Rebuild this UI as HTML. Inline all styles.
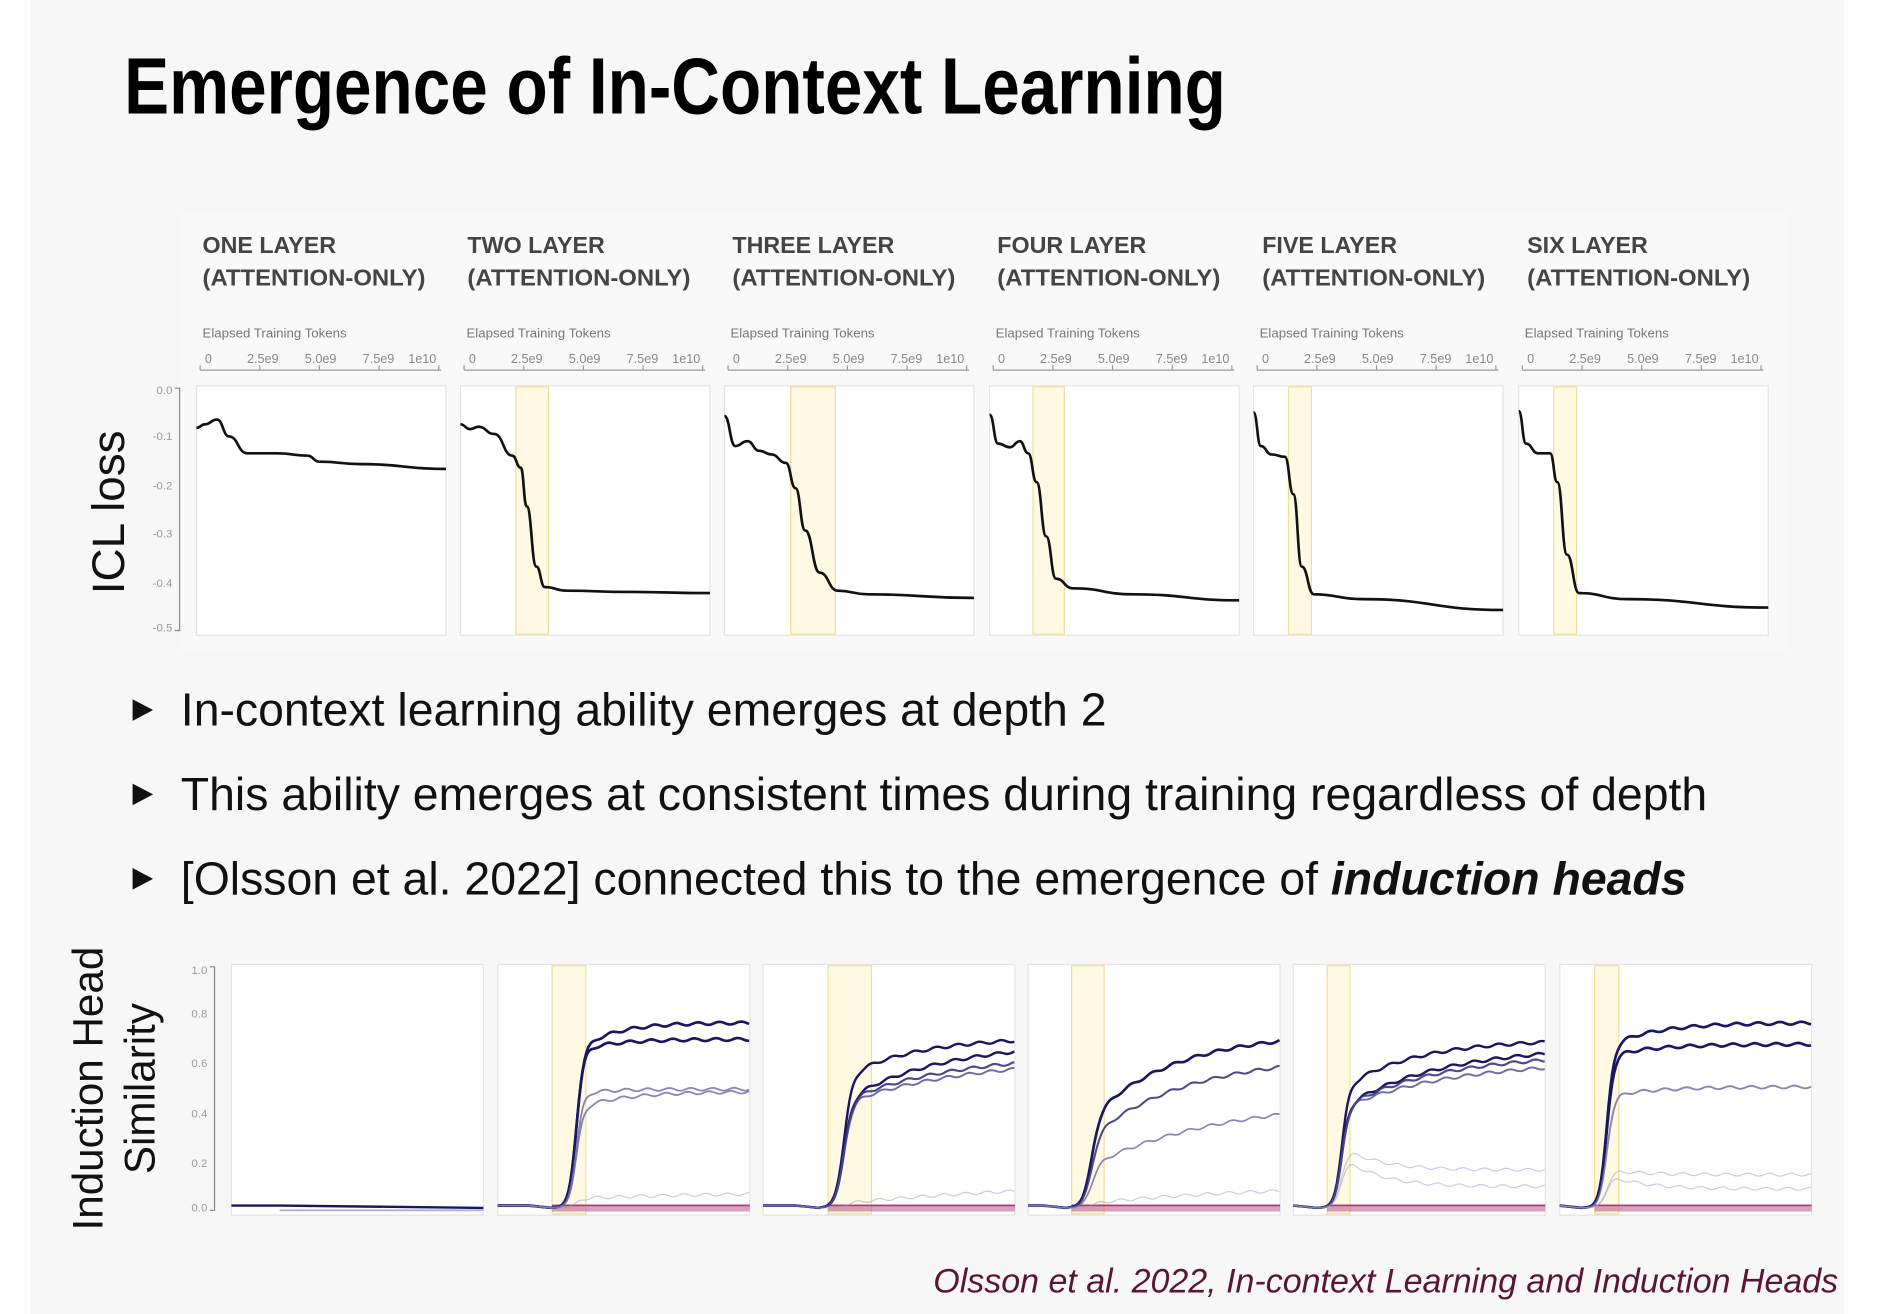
<!DOCTYPE html>
<html><head><meta charset="utf-8"><style>
html,body{margin:0;padding:0;background:#fdfdfd;}
svg{display:block;}
</style></head><body>
<svg id="s" width="1890" height="1314" viewBox="0 0 1568 1090" preserveAspectRatio="none" xmlns="http://www.w3.org/2000/svg" font-family="Liberation Sans, sans-serif">
<rect x="0" y="0" width="1568" height="1090" fill="#fdfdfd"/>
<rect x="25" y="0" width="1505" height="1090" fill="#f7f7f7"/>
<text x="103" y="94" font-family="Liberation Sans Narrow, Liberation Sans, sans-serif" font-weight="bold" font-size="66" textLength="914" lengthAdjust="spacingAndGlyphs" fill="#000">Emergence of In-Context Learning</text>
<rect x="150" y="178" width="1332" height="362" fill="#f9f9f9"/>
<g id="topg"></g>
<g id="botg"></g>
<g font-size="38.5" fill="#111">
<polygon points="110,580 127,589 110,598" fill="#111"/>
<text x="150" y="602">In-context learning ability emerges at depth 2</text>
<polygon points="110,650 127,659 110,668" fill="#111"/>
<text x="150" y="672">This ability emerges at consistent times during training regardless of depth</text>
<polygon points="110,720 127,729 110,738" fill="#111"/>
<text x="150" y="742">[Olsson et al. 2022] connected this to the emergence of <tspan font-weight="bold" font-style="italic">induction heads</tspan></text>
</g>
<text transform="translate(103,425) rotate(-90)" text-anchor="middle" font-size="38" fill="#111">ICL loss</text>
<text transform="translate(85,903) rotate(-90)" text-anchor="middle" font-size="35" fill="#111">Induction Head</text>
<text transform="translate(128,903) rotate(-90)" text-anchor="middle" font-size="35" fill="#111">Similarity</text>
<text x="1525" y="1072" text-anchor="end" font-size="28.2" font-style="italic" fill="#5a1535">Olsson et al. 2022, In-context Learning and Induction Heads</text>
</svg>
<script>
(function(){
var NS="http://www.w3.org/2000/svg";
function el(p,t,a,txt){var e=document.createElementNS(NS,t);for(var k in a)e.setAttribute(k,a[k]);if(txt!==undefined)e.textContent=txt;p.appendChild(e);return e;}
var tg=document.getElementById('topg'),bg=document.getElementById('botg');
var names=['ONE','TWO','THREE','FOUR','FIVE','SIX'];
var px=[163,382,601,821,1040,1260];
var bands=[null,[428,455],[656,693],[857,883],[1069,1088],[1289,1308]];
var curves=[
[[163,355],[170,352],[180,348],[190,362],[205,376],[230,376],[255,378],[265,383],[300,385],[370,389]],
[[382,352],[390,356],[397,354],[410,360],[425,378],[432,388],[437,420],[445,470],[452,487],[470,490],[520,491],[589,492]],
[[601,345],[610,370],[620,366],[630,374],[640,377],[652,384],[660,405],[668,440],[680,475],[695,490],[720,493],[808,496]],
[[821,344],[828,368],[838,371],[846,366],[853,376],[860,400],[868,445],[876,480],[890,488],[940,493],[1028,498]],
[[1040,342],[1046,370],[1055,377],[1066,379],[1073,410],[1080,470],[1090,493],[1130,497],[1247,506]],
[[1260,341],[1266,368],[1276,376],[1286,376],[1292,400],[1300,460],[1310,492],[1350,497],[1467,504]]];
function smooth(pts){var d='M'+pts[0][0]+','+pts[0][1];for(var i=1;i<pts.length;i++){var p0=pts[i-1],p1=pts[i];var mx=(p0[0]+p1[0])/2;d+=' C'+mx+','+p0[1]+' '+mx+','+p1[1]+' '+p1[0]+','+p1[1];}return d;}
for(var i=0;i<6;i++){
 var hx=168+i*219.8;
 el(tg,'text',{x:hx,y:210,'font-size':19.3,'font-weight':'bold',fill:'#444'},names[i]+' LAYER');
 el(tg,'text',{x:hx,y:237,'font-size':19.3,'font-weight':'bold',fill:'#444',textLength:185,lengthAdjust:'spacingAndGlyphs'},'(ATTENTION-ONLY)');
 var ax=px[i]+3;
 el(tg,'text',{x:ax+2,y:280,'font-size':11,fill:'#777'},'Elapsed Training Tokens');
 var lab=['0','2.5e9','5.0e9','7.5e9','1e10'];
 for(var j=0;j<5;j++){var tx=ax+4+j*48;el(tg,'text',{x:tx,y:301,'font-size':10.5,fill:'#888','text-anchor':j==0?'start':(j==4?'end':'middle')},lab[j]);el(tg,'line',{x1:ax+j*49.5,y1:303,x2:ax+j*49.5,y2:307,stroke:'#999'});}
 el(tg,'line',{x1:ax,y1:307,x2:ax+200,y2:307,stroke:'#999','stroke-width':1});
 el(tg,'rect',{x:px[i],y:320,width:207,height:207,fill:'#fff',stroke:'#e4e4e4'});
 if(bands[i]){var b=bands[i];el(tg,'rect',{x:b[0],y:321,width:b[1]-b[0],height:205,fill:'#fdf9e2',stroke:'#efdf9a','stroke-width':1});}
 el(tg,'path',{d:smooth(curves[i]),fill:'none',stroke:'#111','stroke-width':2.2});
}
el(tg,'path',{d:'M145,322 L149,322 L149,523 L145,523',fill:'none',stroke:'#888'});
var yl=[['0.0',324],['-0.1',362],['-0.2',403],['-0.3',443],['-0.4',484],['-0.5',521]];
yl.forEach(function(a){el(tg,'text',{x:143,y:a[1]+3,'font-size':9.5,fill:'#999','text-anchor':'end'},a[0]);});
var bx=[192,413,633,853,1073,1294];
var bb=[null,[458,486],[687,723],[889,916],[1101,1120],[1323,1343]];
function Y(v){return 1002-v*197;}
var specs=[null,
 {x0:478,w:3,lines:[[0.78,0.66,30,'#1a1660',2.2,1],[0.71,0.66,30,'#1a1660',2.2,1],[0.50,0.48,25,'#6a66a8',1.5,0.8],[0.49,0.42,40,'#6a66a8',1.5,0.8],[0.07,0.04,150,'#9a98d0',1,0.5]]},
 {x0:700,w:3.5,lines:[[0.72,0.55,60,'#1a1660',2,1],[0.70,0.45,80,'#1a1660',2,1],[0.65,0.45,90,'#3a3680',1.8,0.9],[0.63,0.44,100,'#4a4690',1.6,0.8],[0.12,0.02,200,'#9a98d0',1,0.5]]},
 {x0:905,w:3.5,lines:[[0.74,0.38,70,'#1a1660',2.2,1],[0.64,0.30,80,'#3a3680',1.7,0.9],[0.46,0.18,110,'#6a66a8',1.4,0.8],[0.10,0.02,150,'#9a98d0',1,0.5]]},
 {x0:1113,w:3,lines:[[0.71,0.50,60,'#1a1660',2,1],[0.68,0.42,80,'#1a1660',2,1],[0.65,0.42,80,'#3a3680',1.8,0.9],[0.62,0.42,90,'#4a4690',1.6,0.8],[0.16,0.26,-1,'#9a98d0',1,0.5],[0.09,0.22,-1,'#9a98d0',1,0.5]]},
 {x0:1333,w:3,lines:[[0.78,0.68,40,'#1a1660',2.2,1],[0.69,0.64,40,'#1a1660',2.2,1],[0.51,0.47,40,'#6a66a8',1.6,0.8],[0.14,0.16,-1,'#9a98d0',1,0.5],[0.08,0.14,-1,'#9a98d0',1,0.5]]}];
for(var i=0;i<6;i++){
 var x=bx[i];
 el(bg,'rect',{x:x,y:800,width:209,height:208,fill:'#fff',stroke:'#e4e4e4'});
 if(bb[i]){var b=bb[i];el(bg,'rect',{x:b[0],y:801,width:b[1]-b[0],height:206,fill:'#fdf9e2',stroke:'#efdf9a'});}
 var sp=specs[i];
 if(!sp){el(bg,'path',{d:'M'+x+','+Y(0.01)+' L'+(x+40)+','+Y(0.01)+' L'+(x+209)+','+Y(0.0),fill:'none',stroke:'#1a1660','stroke-width':2});
  el(bg,'path',{d:'M'+(x+40)+','+Y(-0.01)+' L'+(x+209)+','+Y(-0.01),fill:'none',stroke:'#b0aee0','stroke-width':1.5});continue;}
 el(bg,'rect',{x:bb[i][0],y:999,width:x+209-bb[i][0],height:6,fill:'#c0508a',opacity:0.55});
 el(bg,'line',{x1:bb[i][0],y1:1000,x2:x+209,y2:1000,stroke:'#8a1a50','stroke-width':1.2,opacity:0.7});
 sp.lines.forEach(function(L,k){
  var d='';
  for(var t=x;t<=x+209;t+=1.5){
   var s=1/(1+Math.exp(-(t-sp.x0)/sp.w));
   var dt=Math.max(0,t-sp.x0);
   var v;
   if(L[2]<0){ v=s*(L[0]+(L[1]-L[0])*Math.exp(-dt/30)); }
   else { v=s*(L[1]+(L[0]-L[1])*(1-Math.exp(-dt/L[2]))); }
   v+=0.006*Math.sin(t*0.35+k)*s;
   if(t<sp.x0-20)v=0.01-0.01*Math.max(0,(t-(sp.x0-40))/20);
   d+=(d?' L':'M')+t.toFixed(1)+','+Y(v).toFixed(1);
  }
  el(bg,'path',{d:d,fill:'none',stroke:L[3],'stroke-width':L[4],opacity:L[5]});
 });
}
el(bg,'path',{d:'M174,802 L178,802 L178,1004 L174,1004',fill:'none',stroke:'#888'});
[['1.0',805],['0.8',841],['0.6',882],['0.4',924],['0.2',965],['0.0',1002]].forEach(function(a){el(bg,'text',{x:172,y:a[1]+3,'font-size':9.5,fill:'#999','text-anchor':'end'},a[0]);});
})();
</script>
</body></html>
